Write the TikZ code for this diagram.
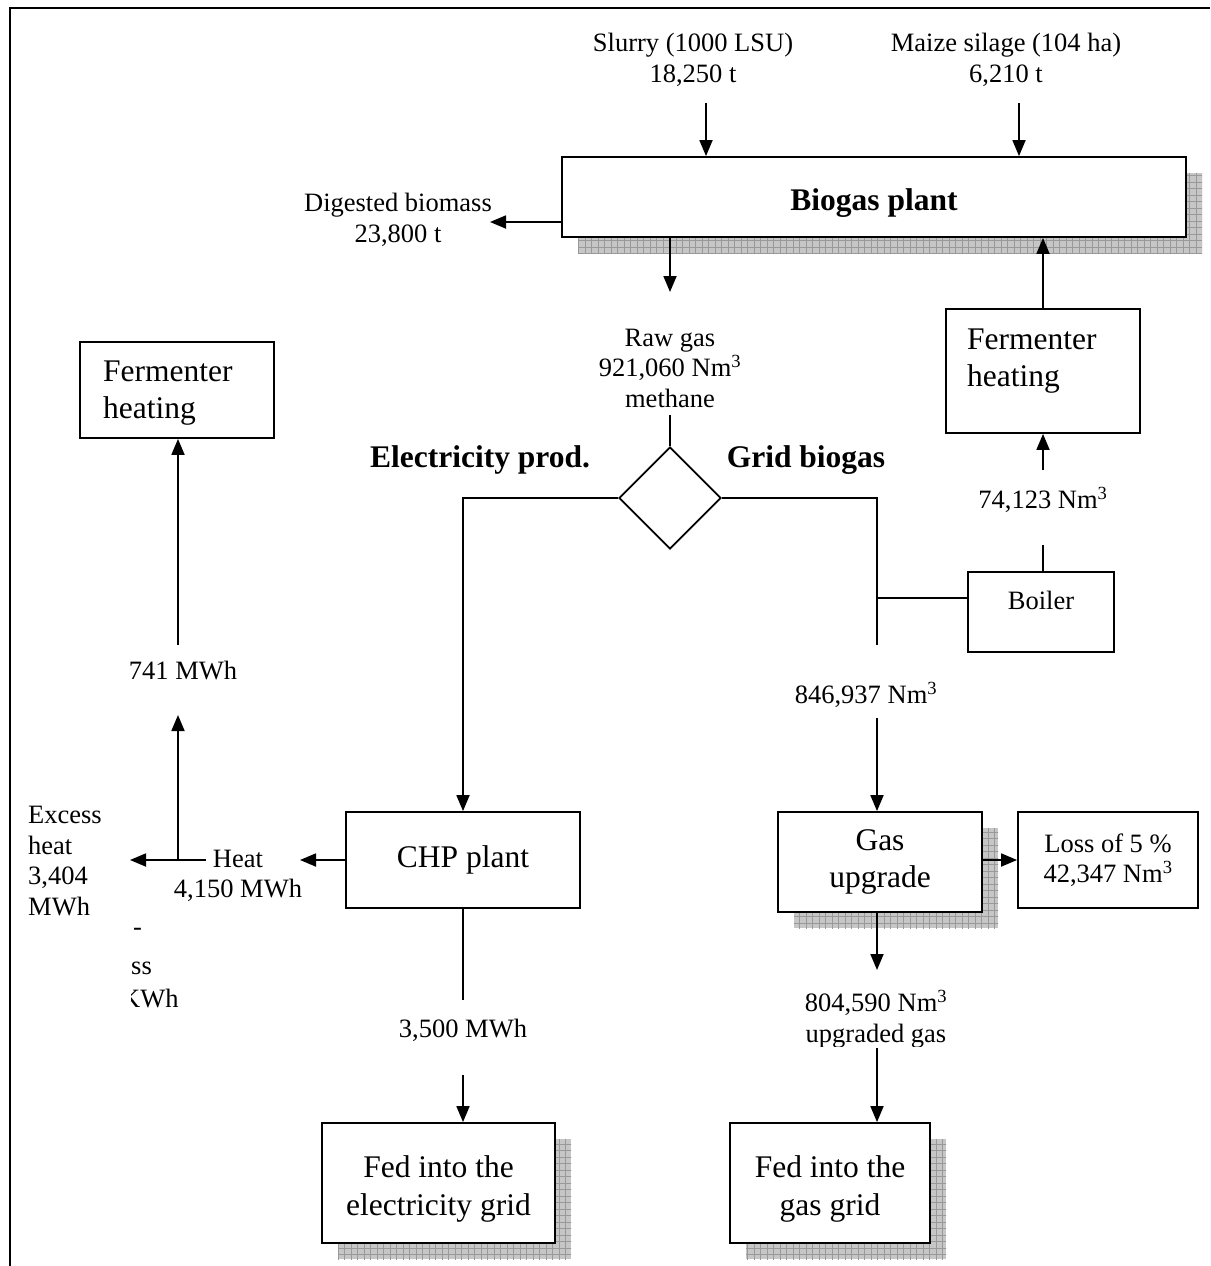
\documentclass[tikz,border=0pt]{standalone}
\usepackage{fontspec}
\setmainfont{Liberation Serif}
\usetikzlibrary{arrows.meta,shapes.geometric,calc}
\begin{document}
\begin{tikzpicture}[x=1pt,y=-1pt,
  sm/.style={font=\fontsize{26.5}{30.5}\selectfont, align=center, inner sep=0},
  lg/.style={font=\fontsize{31.5}{37.5}\selectfont, align=center, inner sep=0},
  bf/.style={font=\fontsize{31.5}{37.5}\selectfont\bfseries, inner sep=0},
  box/.style={draw, line width=1.8pt, fill=white, inner sep=0, rectangle},
  ln/.style={line width=1.8pt},
  arr/.style={line width=1.8pt, -{Triangle[length=16pt,width=13pt]}},
  shade/.style={fill=gray!45},
  shadegrid/.style={draw=gray!80, line width=0.5pt}
]
\useasboundingbox (0,0) rectangle (1210,1266);
% frame
\draw[line width=2pt] (10,1266) -- (10,8) -- (1210,8);

% shadows
\foreach \a/\b/\c/\d in {578/173/1202/253, 794/828/998/928, 338/1139/571/1259, 746/1139/946/1259}{
  \fill[shade] (\a,\b) rectangle (\c,\d);
  \begin{scope}
    \clip (\a,\b) rectangle (\c,\d);
    \draw[shadegrid, step=6.5pt] (\a-10,\b-10) grid (\c+10,\d+10);
  \end{scope}
}

% boxes
\node[box, minimum width=624pt, minimum height=80pt] (bio) at (874,197) {};
\node[bf] (biot) at (874,203) {Biogas plant};
\node[box, minimum width=194pt, minimum height=124pt] (rferm) at (1043,371) {};
\node[lg, align=left, anchor=west] (rfermt) at (967,361) {Fermenter\\heating};
\node[box, minimum width=194pt, minimum height=96pt] (lferm) at (177,390) {};
\node[lg, align=left, anchor=west] (lfermt) at (103,393) {Fermenter\\heating};
\node[box, minimum width=146pt, minimum height=80pt] (boil) at (1041,612) {};
\node[sm] (boilt) at (1041,600) {Boiler};
\node[box, lg, minimum width=234pt, minimum height=96pt] (chp) at (463,860) {CHP plant};
\node[box, lg, minimum width=204pt, minimum height=100pt] (gas) at (880,862) {Gas\\upgrade};
\node[box, sm, minimum width=180pt, minimum height=96pt] (loss) at (1108,860) {Loss of 5 \%\\42,347 Nm\textsuperscript{3}};
\node[box, minimum width=233pt, minimum height=120pt] (fede) at (438.5,1183) {};
\node[lg] (fedet) at (438.5,1189) {Fed into the\\electricity grid};
\node[box, minimum width=200pt, minimum height=120pt] (fedg) at (830,1183) {};
\node[lg] (fedgt) at (830,1189) {Fed into the\\gas grid};
\node[draw, line width=1.8pt, diamond, aspect=1, minimum width=102pt, minimum height=102pt, inner sep=0] (dia) at (670,498) {};

% labels
\node[sm] (slurry) at (693,60) {Slurry (1000 LSU)\\18,250 t};
\node[sm] (maize) at (1006,60) {Maize silage (104 ha)\\6,210 t};
\node[sm] (dig) at (398,220) {Digested biomass\\23,800 t};
\node[sm] (raw) at (670,368) {Raw gas\\921,060 Nm\textsuperscript{3}\\methane};
\node[bf] (elp) at (480,460) {Electricity prod.};
\node[bf] (grb) at (806,460) {Grid biogas};
\node[sm] (l74) at (1043,500) {74,123 Nm\textsuperscript{3}};
\node[sm] (l846) at (866,695) {846,937 Nm\textsuperscript{3}};
\node[sm] (l741) at (183,670) {741 MWh};
\node[sm, align=left, anchor=west] (exc) at (28,861) {Excess\\heat\\3,404\\MWh};
\node[sm] (heat) at (238,876) {Heat\\4,150 MWh};
\node[sm] (l3500) at (463,1030) {3,500 MWh};
\begin{scope}
  \clip (700,950) rectangle (1050,1046);
  \node[sm] (l804) at (876,1019) {804,590 Nm\textsuperscript{3}\\upgraded gas};
\end{scope}
\begin{scope}
  \clip (131,900) rectangle (300,1030);
  \node[sm, anchor=west] (cl1) at (133,932) {-};
  \node[sm, anchor=west] (cl2) at (131,968) {ss};
  \node[sm, anchor=west] (cl3) at (121,998) {KWh};
\end{scope}

% coordinates
\coordinate (slA) at (706,103);
\coordinate (mzA) at (1019,103);
\coordinate (digA) at (490,222);
\coordinate (rawA) at (670,292);
\coordinate (rawB) at (670,415);
\coordinate (gsplit) at (877,645);
\coordinate (gjoin) at (877,598);
\coordinate (b74a) at (1043,545);
\coordinate (b74b) at (1043,470);
\coordinate (g846) at (877,718);
\coordinate (gdown) at (877,970);
\coordinate (g804) at (877,1048);
\coordinate (chpL) at (300,860);
\coordinate (hJ) at (206,860);
\coordinate (hX) at (130,860);
\coordinate (hU) at (178,860);
\coordinate (hUp) at (178,715);
\coordinate (h741) at (178,645);
\coordinate (e1) at (463,1000);
\coordinate (e2) at (463,1075);

% connectors
\draw[arr] (slA) -- (slA |- bio.north);
\draw[arr] (mzA) -- (mzA |- bio.north);
\draw[arr] (digA -| bio.west) -- (digA);
\draw[arr] (rawA |- bio.south) -- (rawA);
\draw[ln] (rawB) -- (dia.north);
\draw[arr] (dia.west) -| (chp.north);
\draw[ln] (dia.east) -| (gsplit);
\draw[ln] (gjoin) -- (boil.west |- gjoin);
\draw[ln] (boil.north -| b74a) -- (b74a);
\draw[arr] (b74b) -- (b74b |- rferm.south);
\draw[arr] (rferm.north) -- (rferm.north |- bio.south);
\draw[arr] (g846) -- (g846 |- gas.north);
\draw[arr] (gas.east |- loss.west) -- (loss.west);
\draw[arr] (gas.south -| gdown) -- (gdown);
\draw[arr] (g804) -- (g804 |- fedg.north);
\draw[arr] (chp.west) -- (chpL);
\draw[arr] (hJ) -- (hX);
\draw[arr] (hU) -- (hUp);
\draw[arr] (h741) -- (h741 |- lferm.south);
\draw[ln] (chp.south) -- (e1);
\draw[arr] (e2) -- (e2 |- fede.north);
\end{tikzpicture}
\end{document}
